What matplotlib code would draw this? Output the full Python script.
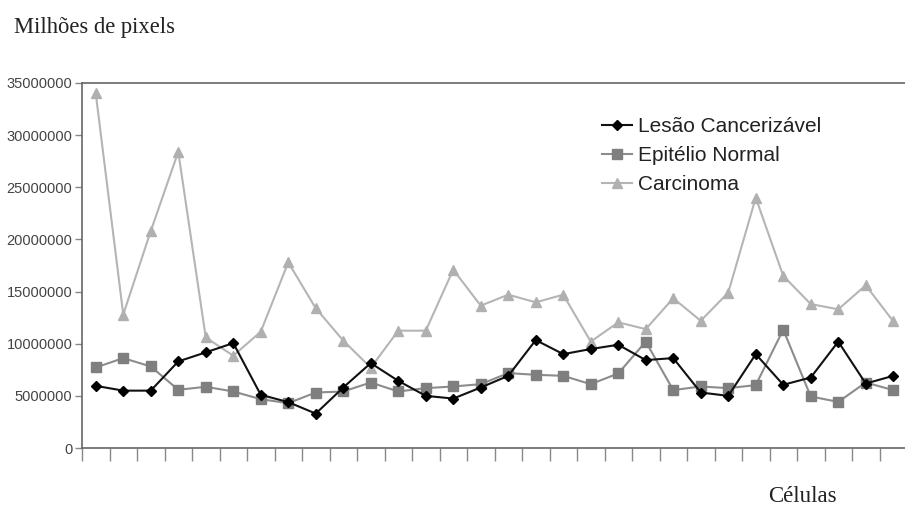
import matplotlib
matplotlib.use("Agg")
import matplotlib.pyplot as plt
import numpy as np
from matplotlib.ticker import FixedLocator, FuncFormatter

# Data (values in pixels), 30 cells
lesao = [5.96e6, 5.5e6, 5.5e6, 8.3e6, 9.17e6, 10.06e6, 5.1e6, 4.4e6, 3.3e6, 5.8e6,
         8.14e6, 6.44e6, 5.0e6, 4.74e6, 5.8e6, 6.92e6, 10.35e6, 9.0e6, 9.49e6, 9.9e6,
         8.43e6, 8.62e6, 5.32e6, 5.0e6, 9.0e6, 6.06e6, 6.76e6, 10.2e6, 6.18e6, 6.92e6]
epitelio = [7.72e6, 8.62e6, 7.82e6, 5.58e6, 5.87e6, 5.42e6, 4.68e6, 4.3e6, 5.32e6, 5.42e6,
            6.28e6, 5.42e6, 5.74e6, 5.9e6, 6.12e6, 7.18e6, 7.02e6, 6.92e6, 6.12e6, 7.15e6,
            10.2e6, 5.55e6, 5.9e6, 5.74e6, 6.03e6, 11.35e6, 4.94e6, 4.42e6, 6.28e6, 5.55e6]
carcinoma = [34.0e6, 12.8e6, 20.8e6, 28.4e6, 10.6e6, 8.85e6, 11.15e6, 17.8e6, 13.4e6, 10.3e6,
             7.7e6, 11.25e6, 11.25e6, 17.1e6, 13.65e6, 14.7e6, 13.97e6, 14.7e6, 10.2e6, 12.05e6,
             11.4e6, 14.36e6, 12.2e6, 14.9e6, 24.0e6, 16.5e6, 13.8e6, 13.3e6, 15.6e6, 12.15e6]
series_names = ["Lesão Cancerizável", "Epitélio Normal", "Carcinoma"]
y_ticks = [0, 5000000, 10000000, 15000000, 20000000, 25000000, 30000000, 35000000]

W, H = 905, 509
fig = plt.figure(figsize=(W / 100, H / 100), dpi=100)
fig.patch.set_facecolor("white")

left, right, top, bottom = 82, 907, 83, 448
ax = fig.add_axes([left / W, (H - bottom) / H, (right - left) / W, (bottom - top) / H])

n = len(lesao)
x = np.arange(n) + 0.5

ax.plot(x, carcinoma, color="#b5b5b5", lw=1.5, marker="^", ms=6.5,
        mfc="#b0b0b0", mec="#b0b0b0", label=series_names[2], zorder=2)
ax.plot(x, epitelio, color="#8c8c8c", lw=1.5, marker="s", ms=6.5,
        mfc="#7f7f7f", mec="#7f7f7f", label=series_names[1], zorder=3)
ax.plot(x, lesao, color="#111111", lw=1.5, marker="D", ms=5,
        mfc="#000000", mec="#000000", label=series_names[0], zorder=4)

ax.set_xlim(0, n)
ax.set_ylim(0, 35000000)

ax.xaxis.set_major_locator(FixedLocator(np.arange(0, n + 1)))
ax.xaxis.set_major_formatter(FuncFormatter(lambda v, p: ""))
ax.yaxis.set_major_locator(FixedLocator(y_ticks))
ax.yaxis.set_major_formatter(FuncFormatter(lambda v, p: "%d" % v))

for s in ["top", "left", "bottom"]:
    ax.spines[s].set_color("#666666")
    ax.spines[s].set_linewidth(1.2)
ax.spines["right"].set_visible(False)

ax.tick_params(axis="x", direction="out", length=9, width=1, color="#888888")
ax.tick_params(axis="y", direction="out", length=5, width=1, color="#888888",
               labelsize=10.5, labelcolor="#444444", pad=2)
for lab in ax.get_yticklabels():
    lab.set_family("Liberation Sans")

handles, labels = ax.get_legend_handles_labels()
order = [2, 1, 0]
leg = ax.legend([handles[i] for i in order], [labels[i] for i in order],
                loc="upper left", bbox_to_anchor=((602 - left) / (right - left), 1 - (117 - top) / (bottom - top)),
                frameon=False, prop={"family": "Liberation Sans", "size": 15},
                handlelength=1.45, handletextpad=0.3, labelspacing=0.48, borderpad=0,
                borderaxespad=0, labelcolor="#222222")

fig.text(14 / W, 1 - 28 / H, "Milhões de pixels", family="Liberation Serif",
         fontsize=16.3, color="#222222", ha="left", va="center")
fig.text(802 / W, 1 - 497 / H, "Células", family="Liberation Serif",
         fontsize=16.5, color="#222222", ha="center", va="center")

fig.savefig("out.png", dpi=100, facecolor="white")
